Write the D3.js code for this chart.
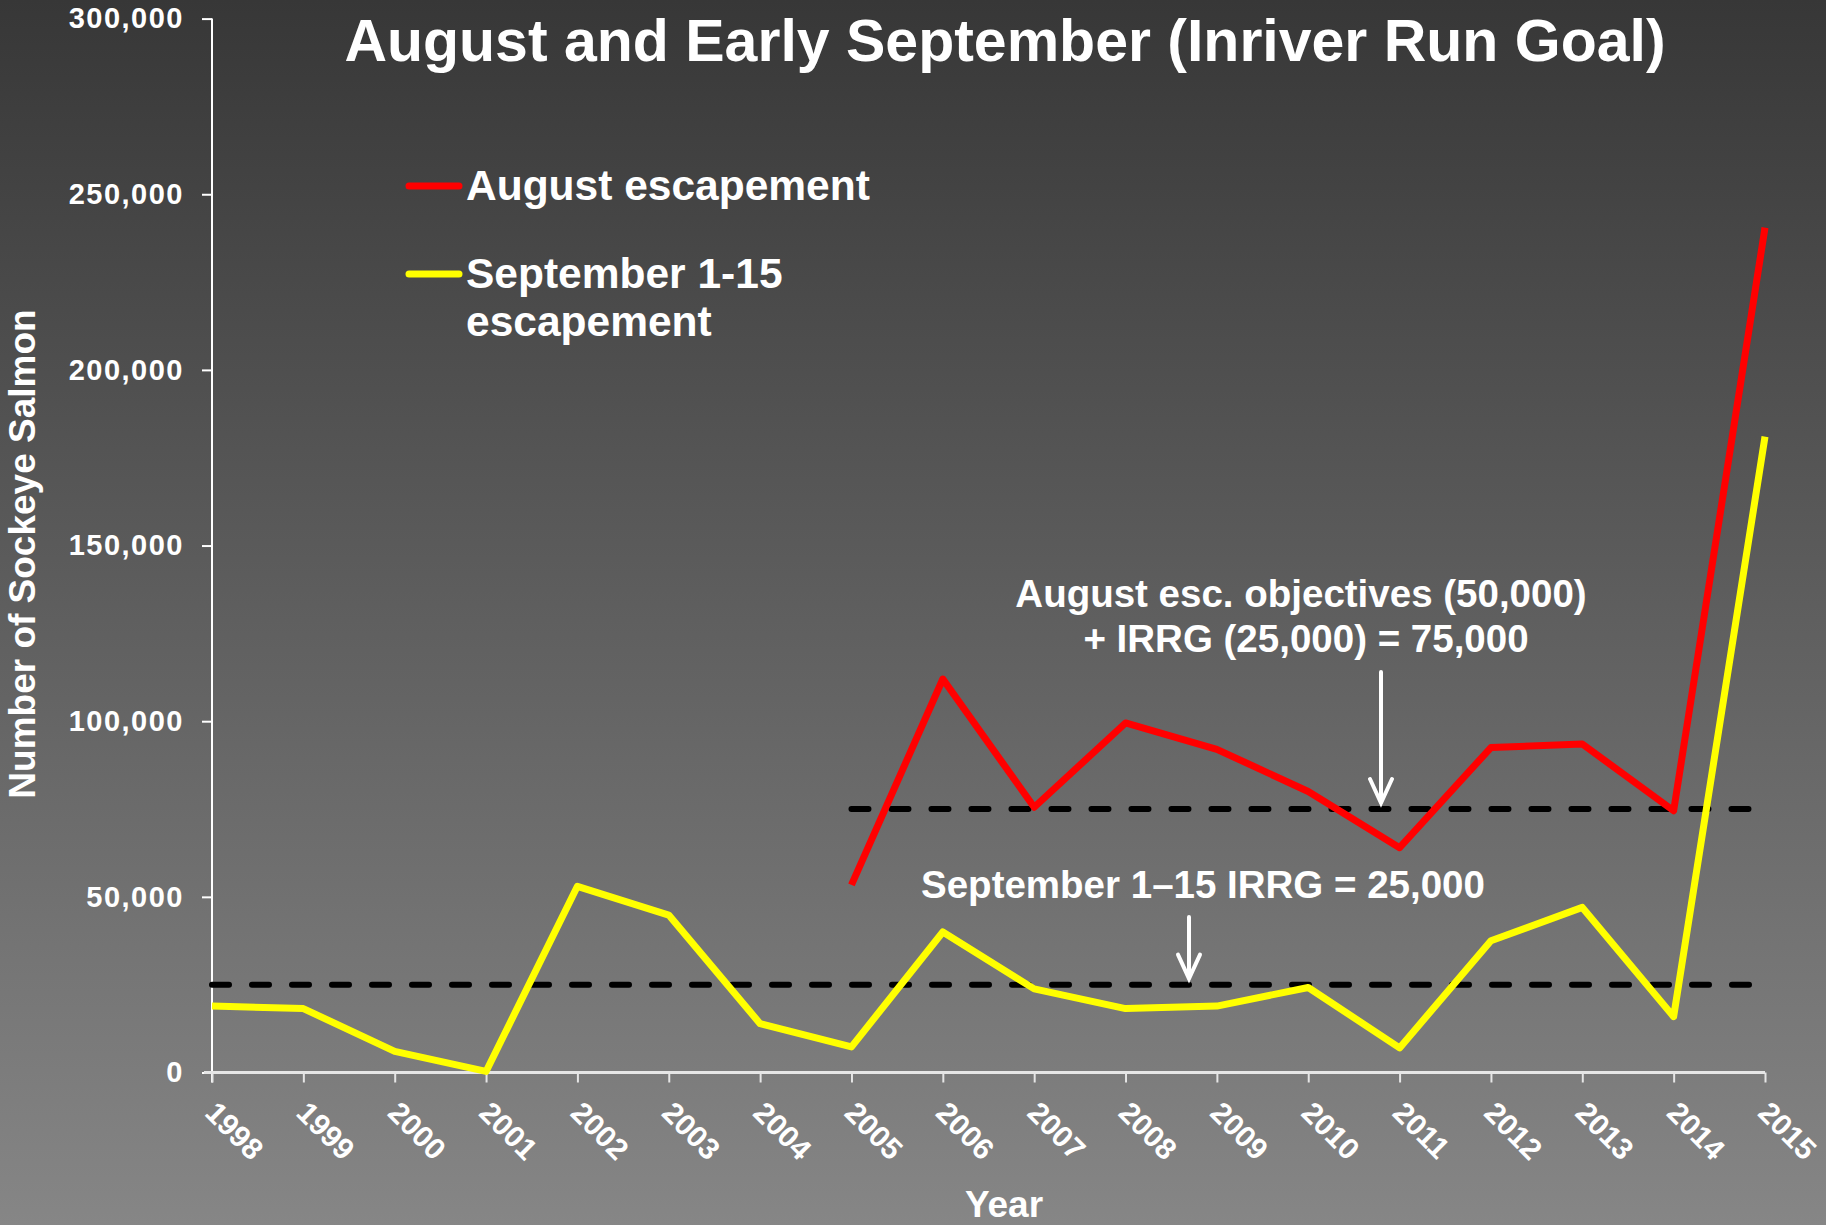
<!DOCTYPE html>
<html>
<head>
    <meta charset="utf-8" />
    <title>August and Early September escapement</title>
    <script src="https://cdn.jsdelivr.net/npm/d3@7"></script>
    <style>
        html, body { margin: 0; padding: 0; }
        body { width: 1826px; height: 1225px; overflow: hidden; }
        text { font-family: "Liberation Sans", Arial, sans-serif; font-weight: bold; fill: #fff; }
    </style>
</head>
<body>
    <script>
        // values
        var years = [1998, 1999, 2000, 2001, 2002, 2003, 2004, 2005, 2006, 2007, 2008, 2009, 2010, 2011, 2012, 2013, 2014, 2015];
        var septEsc = [18900, 18200, 6000, 300, 53000, 44800, 13900, 7300, 40000, 23800, 18200, 18900, 24200, 7000, 37500, 47000, 15900, 181000];
        var augEsc = [null, null, null, null, null, null, null, 53400, 112000, 75500, 99500, 92000, 80000, 64000, 92500, 93500, 74500, 240500];
        var yTicks = [0, 50000, 100000, 150000, 200000, 250000, 300000];
        var augGoal = 75000, augGoalFrom = 2005;
        var septGoal = 25000, septGoalFrom = 1998;

        var width = 1826;
        var height = 1225;
        var plotLeft = 212, plotRight = 1765, plotTop = 18.6, plotBottom = 1072.5;

        var svg = d3.select("body")
            .append("svg")
            .attr("width", width)
            .attr("height", height);

        var grad = svg.append("defs").append("linearGradient")
            .attr("id", "bg").attr("x1", 0).attr("y1", 0).attr("x2", 0).attr("y2", 1);
        grad.append("stop").attr("offset", "0%").attr("stop-color", "#373737");
        grad.append("stop").attr("offset", "100%").attr("stop-color", "#868686");
        svg.append("rect").attr("width", width).attr("height", height).attr("fill", "url(#bg)");

        var x = d3.scaleLinear().domain([1998, 2015]).range([plotLeft, plotRight]);
        var y = d3.scaleLinear().domain([0, 300000]).range([plotBottom, plotTop]);

        // title
        svg.append("text")
            .attr("x", 1005).attr("y", 61)
            .attr("text-anchor", "middle")
            .style("font-size", "59px")
            .text("August and Early September (Inriver Run Goal)");

        // y axis
        var yAxis = svg.append("g")
            .attr("transform", "translate(" + plotLeft + ",0)")
            .call(d3.axisLeft(y).tickValues(yTicks).tickFormat(d3.format(",")).tickSize(10).tickPadding(18));
        yAxis.select(".domain").attr("stroke", "#fff").attr("stroke-width", 2).attr("d", "M0," + plotTop + "V" + (plotBottom + 10));
        yAxis.selectAll(".tick line").attr("stroke", "#fff").attr("stroke-width", 2);
        yAxis.selectAll(".tick text")
            .attr("fill", "#fff")
            .style("font-family", "'Liberation Sans', Arial, sans-serif")
            .style("font-weight", "bold")
            .style("font-size", "29px")
            .style("letter-spacing", "1.5px");

        // x axis
        var xAxis = svg.append("g")
            .attr("transform", "translate(0," + plotBottom + ")")
            .call(d3.axisBottom(x).tickValues(years).tickFormat(d3.format("d")).tickSize(10));
        xAxis.select(".domain").attr("stroke", "#e6e6e6").attr("stroke-width", 3).attr("d", "M" + (plotLeft - 8) + ",0H" + plotRight);
        xAxis.selectAll(".tick line").attr("stroke", "#e6e6e6").attr("stroke-width", 2);
        xAxis.selectAll(".tick text")
            .attr("fill", "#fff")
            .attr("y", 0).attr("dy", 0)
            .attr("text-anchor", "start")
            .attr("transform", "translate(-9,42) rotate(45)")
            .style("font-family", "'Liberation Sans', Arial, sans-serif")
            .style("font-weight", "bold")
            .style("font-size", "30px");

        // axis titles
        svg.append("text")
            .attr("transform", "translate(35,554) rotate(-90)")
            .attr("text-anchor", "middle")
            .style("font-size", "37px")
            .text("Number of Sockeye Salmon");

        svg.append("text")
            .attr("x", 1004).attr("y", 1217)
            .attr("text-anchor", "middle")
            .style("font-size", "37px")
            .text("Year");

        // goal lines
        svg.append("line")
            .attr("x1", x(septGoalFrom)).attr("x2", x(2015))
            .attr("y1", y(septGoal)).attr("y2", y(septGoal))
            .attr("stroke", "#000").attr("stroke-width", 6)
            .attr("stroke-linecap", "round")
            .attr("stroke-dasharray", "17,23");

        svg.append("line")
            .attr("x1", x(augGoalFrom)).attr("x2", x(2015))
            .attr("y1", y(augGoal)).attr("y2", y(augGoal))
            .attr("stroke", "#000").attr("stroke-width", 6)
            .attr("stroke-linecap", "round")
            .attr("stroke-dasharray", "17,23");

        // series
        var line = d3.line()
            .defined(function (d) { return d.v != null; })
            .x(function (d) { return x(d.year); })
            .y(function (d) { return y(d.v); });

        var sept = years.map(function (yr, i) { return { year: yr, v: septEsc[i] }; });
        var aug = years.map(function (yr, i) { return { year: yr, v: augEsc[i] }; });

        svg.append("path")
            .datum(sept)
            .attr("d", line)
            .attr("fill", "none")
            .attr("stroke", "#ffff00").attr("stroke-width", 7)
            .attr("stroke-linejoin", "round");

        svg.append("path")
            .datum(aug)
            .attr("d", line)
            .attr("fill", "none")
            .attr("stroke", "#ff0000").attr("stroke-width", 7)
            .attr("stroke-linejoin", "round");

        // legend
        var legend = [
            { color: "#ff0000", lines: ["August escapement"], y: 186 },
            { color: "#ffff00", lines: ["September 1-15", "escapement"], y: 274 }
        ];
        legend.forEach(function (l) {
            svg.append("line")
                .attr("x1", 409).attr("x2", 459)
                .attr("y1", l.y).attr("y2", l.y)
                .attr("stroke", l.color).attr("stroke-width", 7)
                .attr("stroke-linecap", "round");
            var t = svg.append("text")
                .attr("x", 466).attr("y", l.y + 14)
                .style("font-size", "42.5px");
            l.lines.forEach(function (s, i) {
                t.append("tspan").attr("x", 466).attr("dy", i ? 48 : 0).text(s);
            });
        });

        // annotations
        var a1 = svg.append("text")
            .attr("text-anchor", "middle")
            .style("font-size", "38.5px");
        a1.append("tspan").attr("x", 1301).attr("y", 607).text("August esc. objectives (50,000)");
        a1.append("tspan").attr("x", 1306).attr("y", 652).text("+ IRRG (25,000) = 75,000");

        svg.append("text")
            .attr("x", 1203).attr("y", 898)
            .attr("text-anchor", "middle")
            .style("font-size", "38.5px")
            .text("September 1\u201315 IRRG = 25,000");

        function arrow(ax, y1, y2) {
            svg.append("path")
                .attr("d", "M" + ax + "," + y1 + "V" + y2 + "M" + (ax - 11) + "," + (y2 - 24) + "L" + ax + "," + y2 + "L" + (ax + 11) + "," + (y2 - 24))
                .attr("fill", "none")
                .attr("stroke", "#fff").attr("stroke-width", 4)
                .attr("stroke-linecap", "round").attr("stroke-linejoin", "miter");
        }
        arrow(1381, 672, y(augGoal) - 6);
        arrow(1189, 917, y(septGoal) - 6);
    </script>
</body>
</html>
